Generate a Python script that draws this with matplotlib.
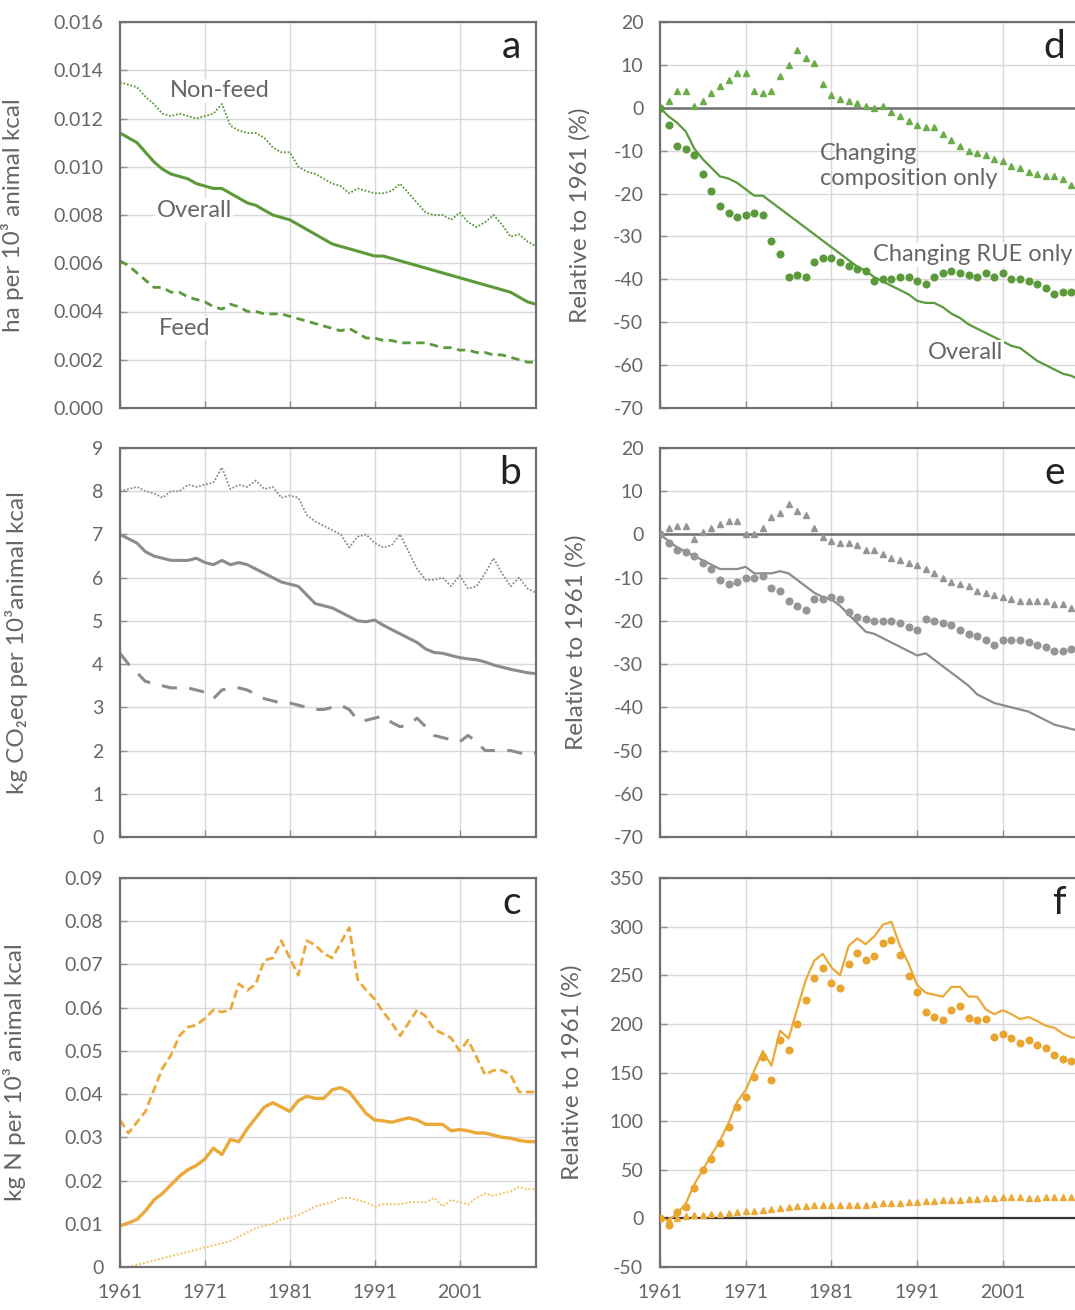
import matplotlib.pyplot as plt
import numpy as np

plt.rcParams['font.family'] = ['Lato', 'DejaVu Sans']

years = np.arange(1961, 2011)
xticks = [1961, 1971, 1981, 1991, 2001]

# panel a: land use, ha per 10^3 animal kcal
a_overall = [0.0114, 0.0112, 0.0110, 0.0106, 0.0102, 0.0099, 0.0097, 0.0096, 0.0095, 0.0093,
             0.0092, 0.0091, 0.0091, 0.0089, 0.0087, 0.0085, 0.0084, 0.0082, 0.0080, 0.0079,
             0.0078, 0.0076, 0.0074, 0.0072, 0.0070, 0.0068, 0.0067, 0.0066, 0.0065, 0.0064,
             0.0063, 0.0063, 0.0062, 0.0061, 0.0060, 0.0059, 0.0058, 0.0057, 0.0056, 0.0055,
             0.0054, 0.0053, 0.0052, 0.0051, 0.0050, 0.0049, 0.0048, 0.0046, 0.0044, 0.0043]
a_nonfeed = [0.0135, 0.0134, 0.0133, 0.0129, 0.0126, 0.0122, 0.0121, 0.0122, 0.0121, 0.0120,
             0.0121, 0.0122, 0.0126, 0.0117, 0.0115, 0.0114, 0.0114, 0.0112, 0.0108, 0.0106,
             0.0106, 0.0100, 0.0098, 0.0097, 0.0095, 0.0093, 0.0092, 0.0089, 0.0091, 0.0090,
             0.0089, 0.0089, 0.0090, 0.0093, 0.0089, 0.0085, 0.0081, 0.0080, 0.0080, 0.0078,
             0.0081, 0.0077, 0.0075, 0.0077, 0.0080, 0.0076, 0.0071, 0.0072, 0.0069, 0.0067]
a_feed = [0.0061, 0.0059, 0.0056, 0.0053, 0.0050, 0.0050, 0.0048, 0.0048, 0.0046, 0.0045,
          0.0044, 0.0042, 0.0041, 0.0043, 0.0042, 0.0040, 0.0040, 0.0039, 0.0039, 0.0039,
          0.0038, 0.0037, 0.0036, 0.0035, 0.0034, 0.0033, 0.0032, 0.0033, 0.0031, 0.0029,
          0.0029, 0.0028, 0.0028, 0.0027, 0.0027, 0.0027, 0.0027, 0.0026, 0.0025, 0.0025,
          0.0024, 0.0024, 0.0023, 0.0023, 0.0022, 0.0022, 0.0021, 0.0020, 0.0019, 0.0019]

# panel b: GHG, kg CO2eq per 10^3 animal kcal
b_overall = [7.0, 6.9, 6.8, 6.6, 6.5, 6.45, 6.4, 6.4, 6.4, 6.45,
             6.35, 6.3, 6.4, 6.3, 6.35, 6.3, 6.2, 6.1, 6.0, 5.9,
             5.85, 5.8, 5.6, 5.4, 5.35, 5.3, 5.2, 5.1, 5.0, 4.98,
             5.02, 4.9, 4.8, 4.7, 4.6, 4.5, 4.35, 4.27, 4.25, 4.2,
             4.15, 4.12, 4.1, 4.05, 3.98, 3.93, 3.88, 3.84, 3.8, 3.78]
b_nonfeed = [8.0, 8.05, 8.1, 8.0, 7.95, 7.85, 8.0, 8.0, 8.15, 8.1,
             8.15, 8.2, 8.55, 8.05, 8.15, 8.1, 8.25, 8.05, 8.1, 7.85,
             7.9, 7.85, 7.45, 7.3, 7.2, 7.1, 7.0, 6.7, 6.95, 7.0,
             6.8, 6.7, 6.75, 7.0, 6.6, 6.2, 5.95, 5.95, 6.0, 5.8,
             6.05, 5.75, 5.8, 6.1, 6.45, 6.1, 5.8, 6.0, 5.75, 5.65]
b_feed = [4.25, 4.0, 3.8, 3.6, 3.55, 3.5, 3.45, 3.45, 3.45, 3.4,
          3.35, 3.2, 3.4, 3.45, 3.45, 3.4, 3.3, 3.2, 3.15, 3.1,
          3.1, 3.05, 3.0, 2.95, 2.95, 3.0, 3.05, 2.95, 2.7, 2.7,
          2.75, 2.8, 2.65, 2.55, 2.6, 2.75, 2.55, 2.35, 2.3, 2.25,
          2.2, 2.35, 2.2, 2.0, 2.0, 2.0, 2.0, 1.95, 1.9, 1.95]

# panel c: nitrogen, kg N per 10^3 animal kcal
c_overall = [0.0095, 0.0102, 0.011, 0.013, 0.0155, 0.017, 0.019, 0.021, 0.0225, 0.0235,
             0.025, 0.0275, 0.026, 0.0295, 0.029, 0.032, 0.0345, 0.037, 0.038, 0.037,
             0.036, 0.0385, 0.0395, 0.039, 0.039, 0.041, 0.0415, 0.0405, 0.038, 0.0355,
             0.034, 0.0338, 0.0335, 0.034, 0.0345, 0.034, 0.033, 0.033, 0.033, 0.0315,
             0.0318, 0.0315, 0.031, 0.031, 0.0305, 0.030, 0.0298, 0.0293, 0.029, 0.029]
c_feed = [0.034, 0.031, 0.0335, 0.036, 0.041, 0.046, 0.049, 0.0535, 0.0555, 0.056,
          0.0575, 0.0595, 0.059, 0.0595, 0.0655, 0.064, 0.0655, 0.071, 0.0715, 0.0755,
          0.0715, 0.0675, 0.0755, 0.0745, 0.0725, 0.0715, 0.075, 0.0785, 0.0665, 0.064,
          0.062, 0.059, 0.0565, 0.0535, 0.0565, 0.0595, 0.058, 0.055, 0.054, 0.053,
          0.050, 0.0525, 0.0485, 0.0445, 0.0455, 0.0455, 0.0445, 0.0405, 0.0405, 0.0405]
c_nonfeed = [0.0, 0.0, 0.0005, 0.001, 0.0015, 0.002, 0.0025, 0.003, 0.0035, 0.004,
             0.0045, 0.005, 0.0055, 0.006, 0.007, 0.008, 0.009, 0.0095, 0.010, 0.011,
             0.0115, 0.012, 0.013, 0.014, 0.0145, 0.015, 0.016, 0.016, 0.0155, 0.015,
             0.014, 0.0145, 0.0145, 0.0145, 0.015, 0.015, 0.015, 0.016, 0.014, 0.0155,
             0.015, 0.0145, 0.016, 0.017, 0.0165, 0.017, 0.0175, 0.0185, 0.018, 0.018]

# panel d: land use relative to 1961 (%)
d_overall = [0, -2, -3.5, -5.5, -9.5, -12, -14, -16, -16.5, -17.5,
             -19, -20.5, -20.5, -22, -23.5, -25, -26.5, -28, -29.5, -31,
             -32.5, -34, -35.5, -37, -38, -39.5, -40.5, -41.5, -42.5, -43.5,
             -45, -45.5, -45.5, -46.5, -48, -49, -50.5, -51.5, -52.5, -53.5,
             -54.5, -55.5, -56, -57.5, -59, -60, -61, -62, -62.5, -63.5]
d_comp = [0, 1.5, 4, 4, 0.5, 1.5, 3.5, 5, 6.5, 8,
          8, 4, 3.5, 4, 7.5, 10, 13.5, 11.5, 10.5, 5.5,
          3, 2, 1.5, 1, 0.5, 0, 0.5, -1, -2, -3,
          -4, -4.5, -4.5, -6, -7.5, -9, -10, -10.5, -11, -12,
          -12.5, -13.5, -14, -15, -15.5, -16, -16, -16.5, -18, -19.5]
d_rue = [0, -4, -9, -9.5, -11, -15.5, -19.5, -23, -24.5, -25.5,
         -25, -24.5, -25, -31, -34, -39.5, -39, -39.5, -36, -35,
         -35, -36, -37, -37.5, -38, -40.5, -40, -40, -39.5, -39.5,
         -40.5, -41, -39.5, -38.5, -38, -38.5, -39, -39.5, -38.5, -39.5,
         -38.5, -40, -40, -40.5, -41, -42, -43.5, -43, -43, -43]

# panel e: GHG relative to 1961 (%)
e_overall = [0, -1.5, -3, -4, -5, -6, -7, -8, -8, -8,
             -7.5, -9, -9, -9, -8.5, -9, -10.5, -12, -13.5, -14.5,
             -15, -16.5, -18.5, -20.5, -22.5, -23, -24, -25, -26, -27,
             -28, -27.5, -29, -30.5, -32, -33.5, -35, -37, -38, -39,
             -39.5, -40, -40.5, -41, -42, -43, -44, -44.5, -45, -45.5]
e_comp = [0, 1.5, 2, 2, -1, 0.5, 1.5, 2.5, 3, 3,
          0, 0, 1.5, 4, 5, 7, 5.5, 4.5, 1.5, -0.5,
          -1.5, -2, -2, -2.5, -3.5, -3.5, -4.5, -5.5, -6, -6.5,
          -7, -8, -9, -10, -11, -11.5, -12, -13, -13.5, -14,
          -14.5, -15, -15.5, -15.5, -15.5, -15.5, -16, -16, -17, -18.5]
e_rue = [0, -2, -3.5, -4, -5, -6.5, -8, -10.5, -11.5, -11,
         -10, -10, -9.5, -12.5, -13, -15.5, -16.5, -17.5, -15, -15,
         -14.5, -15, -18, -19, -19.5, -20, -20, -20, -20.5, -21.5,
         -22, -19.5, -20, -20.5, -21, -22, -23, -23.5, -24.5, -25.5,
         -24.5, -24.5, -24.5, -25, -25.5, -26, -27, -27, -26.5, -26]

# panel f: nitrogen relative to 1961 (%)
f_overall = [0, -2, 5, 15, 35, 50, 65, 80, 98, 120,
             132, 152, 172, 157, 193, 185, 215, 245, 265, 272,
             258, 250, 280, 288, 282, 290, 302, 305, 280, 262,
             240, 232, 230, 228, 238, 238, 228, 228, 215, 210,
             214, 210, 205, 207, 203, 198, 196, 190, 186, 186]
f_rue = [0, -7, 7, 12, 31, 50, 61, 77, 94, 115,
         125, 145, 166, 142, 183, 173, 200, 225, 247, 257,
         242, 237, 262, 273, 266, 270, 283, 286, 271, 249,
         233, 212, 207, 204, 214, 218, 206, 204, 205, 186,
         190, 185, 180, 183, 178, 175, 168, 164, 162, 160]
f_comp = [0, -2, 0, 2, 3, 3, 4, 5, 6, 7,
          8, 8, 9, 10, 11, 12, 13, 13, 14, 14,
          14, 14, 14, 14, 14, 15, 16, 16, 16, 17,
          17, 18, 18, 19, 19, 19, 20, 20, 21, 21,
          22, 22, 22, 21, 21, 22, 22, 22, 22, 22]

green = '#5a9a3a'
grey = '#8c8c8c'
gold = '#eba93a'
txt = '#666666'

W, H = 1075, 1310
fig = plt.figure(figsize=(W / 100, H / 100), dpi=100)


def make_ax(left, right, top, bottom):
    return fig.add_axes((left / W, 1 - bottom / H, (right - left) / W, (bottom - top) / H))


def style(ax, ylim, yticks, yfmt, letter, xlabels):
    ax.set_xlim(1961, 2010)
    ax.set_ylim(*ylim)
    ax.set_xticks(xticks)
    ax.set_yticks(yticks)
    ax.set_yticklabels([yfmt.format(v) for v in yticks])
    if xlabels:
        ax.set_xticklabels([str(x) for x in xticks])
    else:
        ax.set_xticklabels([])
    ax.grid(True, color='#d8d8d8', lw=1.0)
    ax.set_axisbelow(True)
    for s in ax.spines.values():
        s.set_color('#707070')
        s.set_linewidth(1.6)
    ax.tick_params(direction='in', length=5, width=1, color='#909090',
                   labelsize=14, labelcolor=txt, pad=12)
    ax.text(0.965, 0.935, letter, transform=ax.transAxes, ha='right', va='center',
            fontsize=28, color='#222222')


rows = [(22, 408), (448, 837), (878, 1267)]
ax_a = make_ax(120, 536, *rows[0])
ax_b = make_ax(120, 536, *rows[1])
ax_c = make_ax(120, 536, *rows[2])
ax_d = make_ax(660, 1080, *rows[0])
ax_e = make_ax(660, 1080, *rows[1])
ax_f = make_ax(660, 1080, *rows[2])

# a
ax_a.plot(years, a_nonfeed, color=green, lw=1.3, ls=(0, (1, 1)))
ax_a.plot(years, a_overall, color=green, lw=2.2)
ax_a.plot(years, a_feed, color=green, lw=2.0, ls=(0, (3, 2)))
style(ax_a, (0, 0.016), np.arange(0, 0.0161, 0.002), '{:.3f}', 'a', False)
box = dict(facecolor='white', edgecolor='none', pad=1)
ax_a.text(1966.9, 0.01315, 'Non-feed', fontsize=17, color=txt, va='center', bbox=box)
ax_a.text(1965.3, 0.0082, 'Overall', fontsize=17, color=txt, va='center', bbox=box)
ax_a.text(1965.6, 0.0033, 'Feed', fontsize=17, color=txt, va='center', bbox=box)
ax_a.set_ylabel('ha per 10³ animal kcal', fontsize=17.5, color=txt)
ax_a.yaxis.set_label_coords(-0.23, 0.5)

# b
ax_b.plot(years, b_nonfeed, color=grey, lw=1.3, ls=(0, (1, 1)))
ax_b.plot(years, b_overall, color=grey, lw=2.2)
ax_b.plot(years, b_feed, color=grey, lw=2.2, ls=(0, (5, 4)))
style(ax_b, (0, 9), np.arange(0, 10), '{:.0f}', 'b', False)
ax_b.set_ylabel('kg CO₂eq per 10³animal kcal', fontsize=17.5, color=txt)
ax_b.yaxis.set_label_coords(-0.22, 0.5)

# c
ax_c.plot(years, c_nonfeed, color='#f1c465', lw=1.4, ls=(0, (1, 1)))
ax_c.plot(years, c_overall, color=gold, lw=2.4)
ax_c.plot(years, c_feed, color=gold, lw=2.0, ls=(0, (3, 1.5)))
style(ax_c, (0, 0.09), np.arange(0, 0.091, 0.01), '{:.2f}', 'c', True)
ax_c.set_yticklabels(['0'] + ['{:.2f}'.format(v) for v in np.arange(0.01, 0.091, 0.01)])
ax_c.set_ylabel('kg N per 10³ animal kcal', fontsize=17.5, color=txt)
ax_c.yaxis.set_label_coords(-0.225, 0.5)

# d
ax_d.axhline(0, color='#707070', lw=1.8, zorder=2)
ax_d.plot(years, d_overall, color=green, lw=1.6, zorder=3)
ax_d.plot(years, d_comp, ls='none', marker='^', ms=4.5, color='#6aad48', zorder=4)
ax_d.plot(years, d_rue, ls='none', marker='o', ms=4.8, color='#5a9a3a', zorder=4)
style(ax_d, (-70, 20), np.arange(-70, 21, 10), '{:.0f}', 'd', False)
ax_d.text(1979.7, -13.5, 'Changing\ncomposition only', fontsize=17, color=txt,
          va='center', linespacing=1.25)
ax_d.text(1985.8, -34.3, 'Changing RUE only', fontsize=17, color=txt, va='center', bbox=box)
ax_d.text(1992.2, -57, 'Overall', fontsize=17, color=txt, va='center', bbox=box)
ax_d.set_ylabel('Relative to 1961 (%)', fontsize=17.5, color=txt)
ax_d.yaxis.set_label_coords(-0.165, 0.5)

# e
ax_e.axhline(0, color='#707070', lw=1.8, zorder=2)
ax_e.plot(years, e_overall, color=grey, lw=1.6, zorder=3)
ax_e.plot(years, e_comp, ls='none', marker='^', ms=4.5, color='#959595', zorder=4)
ax_e.plot(years, e_rue, ls='none', marker='o', ms=4.8, color='#959595', zorder=4)
style(ax_e, (-70, 20), np.arange(-70, 21, 10), '{:.0f}', 'e', False)
ax_e.set_ylabel('Relative to 1961 (%)', fontsize=17.5, color=txt)
ax_e.yaxis.set_label_coords(-0.175, 0.5)

# f
ax_f.axhline(0, color='#333333', lw=1.6, zorder=2)
ax_f.plot(years, f_overall, color=gold, lw=1.6, zorder=3)
ax_f.plot(years, f_comp, ls='none', marker='^', ms=4.5, color=gold, zorder=4)
ax_f.plot(years, f_rue, ls='none', marker='o', ms=4.8, color='#e9a52e', zorder=4)
style(ax_f, (-50, 350), np.arange(-50, 351, 50), '{:.0f}', 'f', True)
ax_f.set_ylabel('Relative to 1961 (%)', fontsize=17.5, color=txt)
ax_f.yaxis.set_label_coords(-0.185, 0.5)

fig.savefig('out.png', dpi=100)
